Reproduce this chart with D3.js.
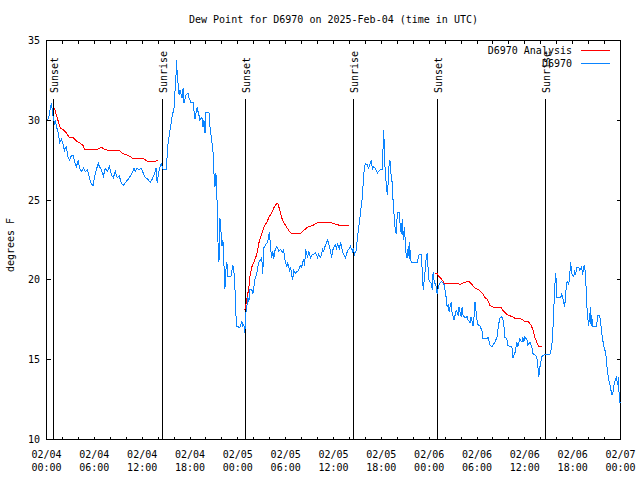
<!DOCTYPE html>
<html><head><meta charset="utf-8">
<script src="https://cdn.jsdelivr.net/npm/d3@7"></script>
<style>
body{margin:0;background:#fff}
text{font-family:"DejaVu Sans Mono",monospace;font-size:10px;fill:#000}
</style>
</head><body>
<svg id="chart" width="640" height="480"></svg>
<script>
const chartTitle = "Dew Point for D6970 on 2025-Feb-04 (time in UTC)";
const yAxisLabel = "degrees F";
const yTickValues = [10, 15, 20, 25, 30, 35];
const xTickHours = [0, 6, 12, 18, 24, 30, 36, 42, 48, 54, 60, 66, 72];
const xTickDates = ["02/04","02/04","02/04","02/04","02/05","02/05","02/05","02/05","02/06","02/06","02/06","02/06","02/07"];
const xTickTimes = ["00:00","06:00","12:00","18:00","00:00","06:00","12:00","18:00","00:00","06:00","12:00","18:00","00:00"];
const xMinorHours = d3.range(0, 73, 2);
const sunHours = [0.8, 14.47, 24.95, 38.42, 49.03, 62.47];
const sunLabels = ["Sunset","Sunrise","Sunset","Sunrise","Sunset","Sunrise"];
const seriesNames = ["D6970 Analysis", "D6970"];
const seriesColors = ["#ff0000", "#0a84ff"];

// hours since 2025-02-04 00:00 UTC, dew point °F
const observed = [[0,30.0],[0.25,30.1],[0.5,30.8],[0.63,31.1],[0.75,30.5],[0.88,30.1],[1.0,29.8],[1.13,30.0],[1.25,29.6],[1.5,29.2],[1.63,28.6],[1.88,28.8],[2.13,28.4],[2.25,28.1],[2.5,28.4],[2.63,27.8],[2.88,27.5],[3.13,27.8],[3.38,27.8],[3.5,27.4],[3.75,27.1],[4.0,27.5],[4.13,27.0],[4.38,26.8],[4.63,27.0],[4.88,26.8],[5.13,26.9],[5.38,26.4],[5.63,26.0],[5.88,25.9],[6.0,26.4],[6.25,26.9],[6.5,27.3],[6.63,27.1],[6.88,26.9],[7.13,26.5],[7.38,27.0],[7.63,26.8],[7.88,27.1],[8.13,26.6],[8.38,26.4],[8.63,26.8],[8.88,26.4],[9.13,26.5],[9.38,26.1],[9.63,25.9],[9.88,26.1],[10.25,26.3],[10.63,26.6],[11.0,27.0],[11.13,26.8],[11.38,27.0],[11.63,26.9],[11.88,27.0],[12.13,26.7],[12.38,26.4],[12.75,26.3],[13.0,26.1],[13.25,26.3],[13.5,26.6],[13.75,27.0],[13.88,26.1],[14.13,26.9],[14.38,27.3],[14.63,26.9],[15.0,26.9],
[15.13,27.7],[15.25,28.6],[15.5,29.4],[15.75,30.2],[16.0,30.8],[16.13,31.9],[16.25,32.9],[16.31,33.8],[16.38,33.1],[16.5,32.3],[16.63,31.6],[16.75,31.9],[17.0,31.4],[17.13,32.0],[17.25,31.1],[17.5,31.6],[17.75,31.7],[17.88,31.4],[18.13,31.1],[18.38,31.1],[18.5,30.6],[18.63,30.1],[18.88,30.8],[19.13,30.3],[19.25,30.0],[19.5,30.2],[19.63,29.6],[19.75,30.0],[19.88,29.2],[20.0,30.5],[20.38,30.5],[20.5,29.6],[20.63,29.1],[20.88,28.1],[21.0,26.7],[21.13,25.8],[21.25,26.7],[21.38,25.2],[21.5,22.5],[21.63,21.1],[21.69,21.9],[21.75,23.9],[21.88,23.1],[22.0,22.1],[22.13,22.5],[22.25,21.1],[22.38,19.4],[22.5,20.6],[22.63,21.1],[22.75,20.2],[23.13,20.2],[23.38,20.9],[23.5,20.6],[23.63,19.6],[23.75,17.9],[23.88,17.1],[24.25,17.0],[24.5,17.4],[24.63,17.1],[24.75,17.2],[24.88,16.7],[25.0,17.9],[25.13,18.3],[25.25,18.9],[25.38,18.6],[25.5,19.4],[25.75,19.4],[25.88,19.1],[26.0,19.5],[26.13,20.0],[26.38,20.4],[26.5,20.8],[26.63,21.1],[26.88,21.3],[27.0,21.4],[27.13,20.4],[27.25,22.0],[27.5,22.2],[27.75,22.4],[27.88,22.8],[28.0,23.0],[28.06,22.2],[28.13,21.9],[28.25,21.4],[28.38,21.8],[28.5,21.3],[28.63,21.8],[28.88,22.1],[29.0,22.0],[29.13,21.8],[29.38,21.9],[29.63,21.7],[29.75,21.9],[29.88,21.3],[30.13,20.8],[30.25,21.1],[30.5,20.6],[30.63,20.8],[30.75,20.3],[30.88,20.0],[31.0,20.6],[31.25,20.4],[31.38,20.5],[31.63,20.6],[31.75,20.8],[31.88,20.9],[32.0,20.8],[32.25,21.3],[32.38,20.9],[32.5,21.9],[32.75,21.4],[32.88,21.8],[33.13,21.4],[33.38,21.6],[33.5,21.6],[33.75,21.7],[34.0,21.4],[34.13,21.6],[34.38,21.4],[34.63,21.9],[34.75,21.8],[35.0,22.2],[35.25,22.5],[35.38,22.3],[35.63,21.8],[35.75,21.4],[35.88,21.8],[36.0,22.0],[36.25,22.2],[36.38,21.9],[36.5,22.3],[36.75,21.9],[36.88,22.4],[37.13,21.8],[37.25,21.6],[37.5,21.4],[37.75,21.8],[37.88,21.9],[38.13,22.1],[38.38,21.8],[38.5,22.0],[38.63,21.6],[38.88,21.9],[39.0,22.7],[39.13,23.1],[39.38,24.2],[39.63,25.2],[39.75,26.3],[39.88,27.1],[40.0,27.3],
[40.25,27.2],[40.38,27.0],[40.63,27.3],[40.75,27.5],[40.88,26.9],[41.0,27.1],[41.25,27.0],[41.5,26.7],[41.63,26.8],[41.88,26.9],[42.13,26.9],[42.25,28.8],[42.31,29.4],[42.38,27.9],[42.5,26.7],[42.75,25.3],[42.88,26.3],[43.0,27.5],[43.13,27.4],[43.25,26.3],[43.38,26.1],[43.5,24.6],[43.63,23.9],[43.75,23.1],[43.88,22.9],[44.0,24.2],[44.25,24.2],[44.38,23.3],[44.5,22.9],[44.63,23.8],[44.75,22.5],[44.88,23.3],[45.0,22.5],[45.13,21.4],[45.25,21.4],[45.38,22.1],[45.5,21.3],[45.56,22.4],[45.63,21.4],[45.75,21.1],[46.5,21.1],[46.75,21.6],[47.0,21.6],[47.13,20.6],[47.25,19.4],[47.5,20.6],[47.63,21.4],[47.75,21.7],[47.88,20.6],[48.0,19.9],[48.25,19.8],[48.38,19.4],[48.5,20.5],[48.63,19.9],[48.88,19.6],[49.0,19.1],[49.13,19.5],[49.25,19.7],[49.5,19.9],[49.75,19.8],[49.88,19.7],[50.13,18.9],[50.25,18.3],[50.38,18.4],[50.5,18.0],[50.75,18.6],[50.88,17.9],[51.0,17.7],[51.13,17.5],[51.38,18.1],[51.63,17.8],[51.75,18.3],[52.0,17.7],[52.13,18.3],[52.25,17.8],[52.5,17.6],[52.75,17.7],[52.88,17.5],[53.13,17.3],[53.25,17.7],[53.5,17.1],[53.63,17.7],[53.75,18.6],[54.0,17.5],[54.13,17.2],[54.38,17.1],[54.63,16.8],[54.75,16.3],[55.25,16.3],[55.38,16.4],[55.63,15.9],[55.88,15.8],[56.0,15.9],[56.25,16.1],[56.5,16.4],[56.63,16.9],[56.75,17.3],[56.88,17.6],[57.13,17.7],[57.25,17.5],[57.38,17.1],[57.5,16.4],[57.75,16.3],[57.88,15.9],[58.13,15.8],[58.38,15.8],[58.5,15.1],[58.75,15.4],[59.0,16.1],[59.13,15.8],[59.38,16.3],[59.63,16.1],[59.75,16.4],[59.88,16.1],[60.0,16.4],[60.25,16.3],[60.38,15.9],[60.63,16.1],[60.88,15.8],[61.0,15.4],[61.25,15.3],[61.5,15.2],[61.63,14.6],[61.75,13.9],[61.88,14.5],[62.13,15.2],[62.38,15.3],[62.75,15.3],[63.13,15.3],[63.38,15.8],[63.5,16.7],[63.63,18.1],[63.75,19.6],[63.88,20.4],[63.94,19.8],[64.0,18.9],[64.25,18.9],[64.5,18.9],[64.63,19.1],[64.75,18.9],[64.88,18.6],[65.0,18.3],[65.13,19.2],[65.25,19.8],[65.38,19.9],[65.5,19.7],[65.63,20.3],[65.75,21.1],[65.88,20.4],[66.13,20.2],[66.25,20.6],[66.38,20.3],[66.5,20.8],[66.75,20.8],[66.88,20.6],[67.13,20.8],[67.25,20.3],[67.38,20.8],[67.5,20.9],[67.63,20.2],[67.75,18.6],[67.88,17.7],[67.94,17.4],[68.0,17.1],[68.25,18.3],[68.31,17.1],[68.38,17.8],[68.5,17.1],[69.0,17.1],[69.13,17.8],[69.38,17.8],[69.5,17.4],[69.63,16.7],[69.75,16.3],[70.0,15.6],[70.13,15.6],[70.25,14.8],[70.38,14.2],[70.5,13.8],[70.75,13.3],[70.88,12.8],[71.0,12.8],[71.25,13.6],[71.5,13.9],[71.63,13.4],[71.75,13.9],[71.81,13.0],[71.88,12.3],[72.0,12.3]];

// analysis series; null value = gap (daytime)
const analysis = [[1.0,30.8],[1.25,30.3],[1.5,29.9],[1.75,29.5],[2.13,29.4],[2.5,29.2],[2.88,28.9],[3.38,28.9],[3.75,28.7],[4.13,28.6],[4.63,28.4],[4.75,28.2],[5.88,28.2],[6.5,28.2],[6.88,28.3],[7.25,28.2],[7.88,28.1],[8.38,28.1],[8.75,28.1],[9.13,28.1],[9.63,27.9],[10.25,27.8],[10.88,27.6],[11.5,27.6],[12.13,27.6],[12.75,27.4],[13.13,27.4],[13.5,27.4],[14.0,27.5],
[14.5,null],
[24.88,18.1],[25.13,18.8],[25.38,19.5],[25.5,20.2],[25.75,20.8],[26.0,21.1],[26.25,21.4],[26.5,21.9],[26.63,22.3],[27.0,22.9],[27.25,23.3],[27.63,23.6],[27.88,23.9],[28.25,24.2],[28.5,24.5],[28.88,24.8],[29.0,24.8],[29.25,24.4],[29.5,23.9],[29.75,23.6],[30.13,23.3],[30.38,23.1],[30.75,22.9],[31.25,22.9],[31.88,22.9],[32.25,23.1],[32.75,23.3],[33.38,23.4],[34.0,23.6],[34.63,23.6],[35.13,23.6],[35.63,23.6],[36.25,23.5],[36.88,23.4],[38.0,23.4],
[38.5,null],
[48.75,20.4],[49.0,20.4],[49.25,20.2],[49.63,20.0],[49.88,19.8],[51.0,19.8],[51.5,19.8],[51.88,19.7],[52.25,19.8],[52.75,19.9],[53.0,19.9],[53.38,19.7],[53.75,19.5],[54.13,19.4],[54.63,19.2],[55.0,18.9],[55.25,18.8],[55.63,18.4],[56.0,18.3],[57.0,18.3],[57.25,18.1],[57.63,17.9],[57.88,17.8],[58.38,17.7],[58.75,17.6],[59.38,17.6],[60.0,17.4],[60.38,17.4],[60.75,17.2],[61.0,16.9],[61.25,16.4],[61.5,16.1],[61.75,15.8],[62.13,15.8]];

const svg = d3.select("#chart");
const L = 46.5, R = 620.5, T = 40.5, B = 439.5;
const x = d3.scaleLinear().domain([0, 72]).range([L, R]);
const y = d3.scaleLinear().domain([10, 35]).range([B, T]);

svg.append("rect").attr("width", 640).attr("height", 480).attr("fill", "#fff");

// title
svg.append("text").attr("x", (L + R) / 2).attr("y", 23).attr("text-anchor", "middle").text(chartTitle);

// y label
svg.append("text").attr("transform", "translate(14,245) rotate(-90)").attr("text-anchor", "middle").text(yAxisLabel);

const g = svg.append("g").attr("shape-rendering", "crispEdges");

// y ticks (left and mirrored right)
yTickValues.forEach(v => {
  const yy = Math.round(y(v)) + 0.5;
  g.append("line").attr("x1", L).attr("x2", L + 4).attr("y1", y(v)).attr("y2", y(v)).attr("stroke", "#000");
  g.append("line").attr("x1", R).attr("x2", R - 4).attr("y1", y(v)).attr("y2", y(v)).attr("stroke", "#000");
  svg.append("text").attr("x", 40).attr("y", y(v) + 3.5).attr("text-anchor", "end").text(v);
});

// x ticks
xMinorHours.forEach(h => {
  g.append("line").attr("x1", x(h)).attr("x2", x(h)).attr("y1", B).attr("y2", B - 3).attr("stroke", "#000");
  g.append("line").attr("x1", x(h)).attr("x2", x(h)).attr("y1", T).attr("y2", T + 3).attr("stroke", "#000");
});
xTickHours.forEach((h, i) => {
  svg.append("text").attr("x", x(h)).attr("y", 457.5).attr("text-anchor", "middle").text(xTickDates[i]);
  svg.append("text").attr("x", x(h)).attr("y", 470.5).attr("text-anchor", "middle").text(xTickTimes[i]);
});

// sunrise / sunset markers
sunHours.forEach((h, i) => {
  const xx = Math.round(x(h)) + 0.5;
  g.append("line").attr("x1", xx).attr("x2", xx).attr("y1", 99).attr("y2", B).attr("stroke", "#000");
  svg.append("text").attr("transform", `translate(${xx + 4.5},93) rotate(-90)`).text(sunLabels[i]);
});

// border
g.append("rect").attr("x", L).attr("y", T).attr("width", R - L).attr("height", B - T)
  .attr("fill", "none").attr("stroke", "#000");

// data lines
const line = d3.line().defined(d => d[1] != null).x(d => x(d[0])).y(d => y(d[1]));
svg.append("path").datum(analysis).attr("d", line).attr("fill", "none")
  .attr("stroke", seriesColors[0]).attr("stroke-width", 1).attr("shape-rendering", "crispEdges");
svg.append("path").datum(observed).attr("d", line).attr("fill", "none")
  .attr("stroke", seriesColors[1]).attr("stroke-width", 1).attr("shape-rendering", "crispEdges");

// legend
seriesNames.forEach((name, i) => {
  const ly = 49.5 + i * 13.5;
  svg.append("text").attr("x", 572).attr("y", ly + 4).attr("text-anchor", "end").text(name);
  svg.append("line").attr("x1", 581).attr("x2", 610).attr("y1", Math.round(ly) + 0.5).attr("y2", Math.round(ly) + 0.5)
    .attr("stroke", seriesColors[i]).attr("shape-rendering", "crispEdges");
});
</script>
</body></html>
